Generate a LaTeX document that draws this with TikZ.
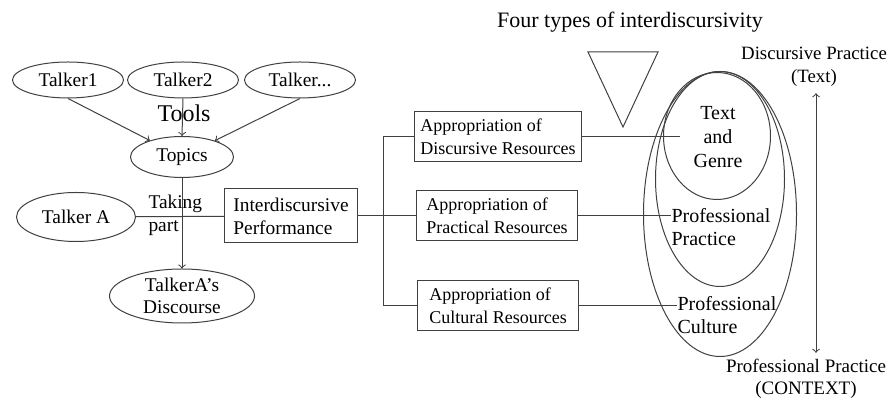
\documentclass[tikz,border=0pt]{standalone}
\usepackage{fontspec}
\setmainfont{Liberation Serif}
\usetikzlibrary{shapes.geometric}
\tikzstyle{talker}=[ellipse,draw=black!75,minimum width=55.5pt,minimum height=18pt,inner sep=0pt]
\tikzstyle{resbox}=[rectangle,draw=black!75,align=left,minimum height=25pt,inner sep=2pt,font=\fontsize{9}{11.5}\selectfont]
\tikzstyle{layer}=[ellipse,draw=black!75,inner sep=0pt]
\tikzstyle{plain}=[inner sep=0pt]
\tikzstyle{inlayer}=[inner sep=0pt,font=\fontsize{10}{11.8}\selectfont]

\begin{document}
\begin{tikzpicture}[x=0.5pt,y=-0.5pt,font=\fontsize{9.7}{11.5}\selectfont,line width=0.5pt]
    \useasboundingbox (0,0) rectangle (894,399);
    \node[plain] (title) at (630,22) {\fontsize{11}{13}\selectfont Four types of interdiscursivity};
    % talkers and topics
    \node[talker] (t1) at (68,80)  {Talker1};
    \node[talker] (t2) at (183,80) {Talker2};
    \node[talker] (t3) at (300,80) {Talker...};
    \node[plain] (tools) at (184,113) {\fontsize{12}{14}\selectfont Tools};
    \node[talker,minimum width=51.5pt,minimum height=20.5pt] (topics) at (182,157) {Topics};
    \node[talker,minimum width=59.5pt,minimum height=24.5pt] (talkerA) at (76,217) {Talker A};
    \node[talker,minimum width=72.5pt,minimum height=27pt,align=center,font=\fontsize{9.7}{10.8}\selectfont] (discourse) at (182,296) {TalkerA’s\\Discourse};
    \node[plain,align=left,anchor=west] (taking) at (148,215) {Taking\\part};
    \node[resbox,minimum width=66.5pt,minimum height=27pt,font=\fontsize{9.7}{11.5}\selectfont] (perf) at (291,216) {Interdiscursive\\Performance};
    \coordinate (fork) at (383,216);
    % appropriation boxes
    \node[resbox,minimum width=83.5pt] (discres) at (498,137) {Appropriation of\\Discursive Resources};
    \node[resbox,minimum width=80.5pt] (pracres) at (497,216) {Appropriation of\\Practical Resources};
    \node[resbox,minimum width=80.5pt] (cultres) at (498,306) {Appropriation of\\Cultural Resources};
    % layers
    \draw[black!75] (588,52) -- (658,52) -- (623,127) -- cycle;
    \node[layer,minimum width=76.5pt,minimum height=142.5pt] (culture) at (720,214) {};
    \node[layer,minimum width=64.5pt,minimum height=107.5pt] (practice) at (720,179) {};
    \node[layer,minimum width=53.5pt,minimum height=63.5pt] (genre) at (717,136) {};
    \node[inlayer,align=center,text width=38pt] (genretext) at (718,137) {Text\\and\\Genre};
    \node[inlayer,align=left,anchor=west] (practext) at (671,227) {Professional\\Practice};
    \node[inlayer,align=left,anchor=west] (culttext) at (677,315) {Professional\\Culture};
    \node[plain,align=center,font=\fontsize{9.4}{11.5}\selectfont] (toptext) at (814,67) {Discursive Practice\\(Text)};
    \node[plain,align=center,font=\fontsize{9.5}{11}\selectfont] (bottext) at (806,379) {Professional Practice\\(CONTEXT)};

    \draw[->,black!75] (t1.south) -- (topics);
    \draw[->,black!75] (t2.south) -- (topics.north);
    \draw[->,black!75] (t3.south) -- (topics);
    \draw[->,black!75] (topics) -- (discourse);
    \draw[black!75] (talkerA) -- (perf);
    \draw[black!75] (perf) -- (fork);
    \foreach \res in {discres,pracres,cultres}
    \draw[black!75] (fork) |- (\res.west);
    \draw[black!75] (discres.east) -- (genretext.west);
    \draw[black!75] (pracres.east) -- (pracres.east -| practext.west);
    \draw[black!75] (cultres.east) -- (cultres.east -| culttext.west);
    \draw[<->,black!75,shorten <=3pt,shorten >=3pt] (toptext.south -| 816,0) -- (bottext.north -| 816,0);
\end{tikzpicture}
\end{document}
